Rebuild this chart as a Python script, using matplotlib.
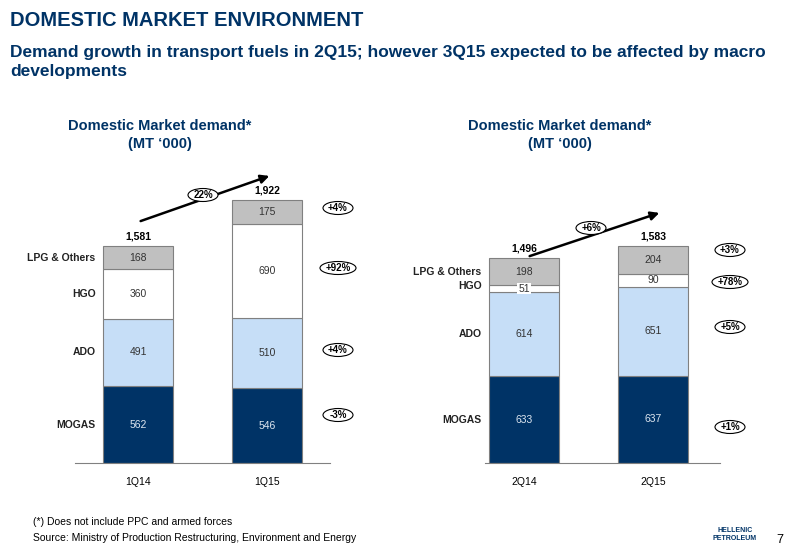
import matplotlib
matplotlib.use("Agg")
import matplotlib.pyplot as plt
from matplotlib.patches import Ellipse, FancyArrowPatch

cats_l = ["1Q14", "1Q15"]
cats_r = ["2Q14", "2Q15"]
series = ["MOGAS", "ADO", "HGO", "LPG & Others"]
vals_l = {"MOGAS": [562, 546], "ADO": [491, 510], "HGO": [360, 690], "LPG & Others": [168, 175]}
vals_r = {"MOGAS": [633, 637], "ADO": [614, 651], "HGO": [51, 90], "LPG & Others": [198, 204]}
totals_l = ["1,581", "1,922"]
totals_r = ["1,496", "1,583"]
chg_l = ["-3%", "+4%", "+92%", "+4%"]
chg_r = ["+1%", "+5%", "+78%", "+3%"]
growth_l = "22%"
growth_r = "+6%"

colors = {"MOGAS": "#003366", "ADO": "#C6DEF7", "HGO": "#FFFFFF", "LPG & Others": "#C0C0C0"}
txtc = {"MOGAS": "#DDE6F0", "ADO": "#333333", "HGO": "#333333", "LPG & Others": "#333333"}
navy = "#003366"
W, H = 800, 554
fig = plt.figure(figsize=(8, 5.54), dpi=100)
plt.rcParams['font.family'] = ['Liberation Sans', 'DejaVu Sans']

def fx(x): return x / W
def fy(y): return 1 - y / H

fig.text(fx(10), fy(21), "DOMESTIC MARKET ENVIRONMENT", color=navy, fontsize=14.5, fontweight="bold", va="center")
fig.text(fx(10), fy(62), "Demand growth in transport fuels in 2Q15; however 3Q15 expected to be affected by macro\ndevelopments",
         color=navy, fontsize=12.5, fontweight="bold", va="center", linespacing=1.3)
for cx in (160, 560):
    fig.text(fx(cx), fy(135), "Domestic Market demand*\n(MT \u2018000)", color=navy, fontsize=10.5,
             fontweight="bold", ha="center", va="center", linespacing=1.3)

scale = 0.137
top_px = 100
ymax = (463 - top_px) / scale

def make_ax(x0, x1, center0, vals, cats, totals):
    ax = fig.add_axes([fx(x0), fy(463), (x1 - x0) / W, (463 - top_px) / H])
    ax.set_xlim((x0 - center0) / 129, (x1 - center0) / 129)
    ax.set_ylim(0, ymax)
    bottoms = [0, 0]
    for s in series:
        v = vals[s]
        ax.bar([0, 1], v, 0.55, bottom=bottoms, color=colors[s], edgecolor="#808080", linewidth=0.8)
        for i in range(2):
            ax.text(i, bottoms[i] + v[i] / 2, str(v[i]), ha="center", va="center", fontsize=7.5, color=txtc[s],
                    bbox=dict(facecolor="white", edgecolor="none", pad=0.5) if (s == "HGO" and v[i] < 60) else None)
        ax.text(-0.33, bottoms[0] + v[0] / 2 + (20 if s == "HGO" and v[0] < 60 else 0), s, ha="right", va="center",
                fontsize=7.5, fontweight="bold", color="#222222")
        bottoms = [bottoms[i] + v[i] for i in range(2)]
    for i in range(2):
        ax.text(i, bottoms[i] + 35, totals[i], ha="center", va="bottom", fontsize=7.5, fontweight="bold")
    ax.set_xticks([0, 1])
    ax.set_xticklabels(cats, fontsize=7.5)
    ax.tick_params(axis="x", length=0, pad=10)
    ax.set_yticks([])
    for sp in ["top", "right", "left"]:
        ax.spines[sp].set_visible(False)
    ax.spines["bottom"].set_color("#808080")
    ax.patch.set_alpha(0)
    return ax

make_ax(75, 330, 138, vals_l, cats_l, totals_l)
make_ax(485, 720, 524, vals_r, cats_r, totals_r)

def oval(x, y, t, w=None):
    if w is None:
        w = 12 + 6 * len(t)
    fig.add_artist(Ellipse((fx(x), fy(y)), w / W, 13 / H, transform=fig.transFigure,
                           facecolor="white", edgecolor="black", linewidth=0.8, zorder=5))
    fig.text(fx(x), fy(y), t, ha="center", va="center", fontsize=7, fontweight="bold", zorder=6)

for (x, y), t in zip([(338, 415), (338, 350), (338, 268), (338, 208)], chg_l):
    oval(x, y, t)
for (x, y), t in zip([(730, 427), (730, 327), (730, 282), (730, 250)], chg_r):
    oval(x, y, t)

for (x0, y0, x1, y1), (gx, gy), g in [((138, 222, 272, 175), (203, 195), growth_l),
                                      ((527, 257, 662, 212), (591, 228), growth_r)]:
    fig.add_artist(FancyArrowPatch((fx(x0), fy(y0)), (fx(x1), fy(y1)), transform=fig.transFigure,
                                   arrowstyle="-|>,head_length=5,head_width=2.5", lw=1.8, color="black", zorder=4))
    oval(gx, gy, g, w=30)

fig.text(fx(33), fy(522), "(*) Does not include PPC and armed forces", fontsize=7.5, va="center")
fig.text(fx(33), fy(538), "Source: Ministry of Production Restructuring, Environment and Energy", fontsize=7.5, va="center")
fig.text(fx(776), fy(540), "7", fontsize=9, va="center")
fig.text(fx(735), fy(534), "HELLENIC\nPETROLEUM", fontsize=5, fontweight="bold", color=navy, ha="center", va="center")

fig.savefig("out.png", dpi=100)
